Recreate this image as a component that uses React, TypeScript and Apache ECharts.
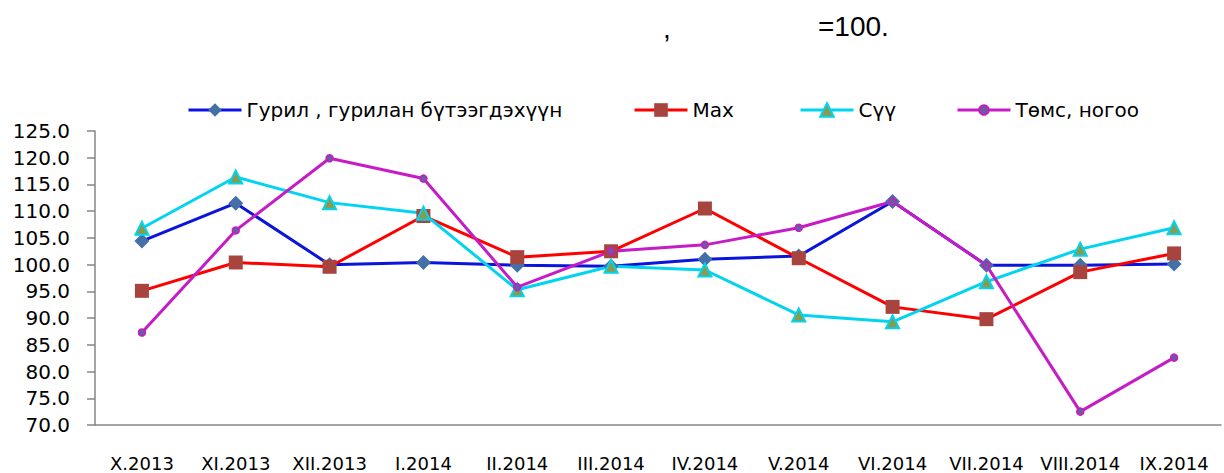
import React, { useEffect, useRef } from "react";
import * as echarts from "echarts";

const categories = ["X.2013", "XI.2013", "XII.2013", "I.2014", "II.2014", "III.2014", "IV.2014", "V.2014", "VI.2014", "VII.2014", "VIII.2014", "IX.2014"];
const flour = [104.4, 111.5, 100.0, 100.4, 99.9, 99.7, 101.0, 101.6, 111.8, 99.9, 99.9, 100.1];
const meat = [95.1, 100.4, 99.6, 109.1, 101.4, 102.5, 110.5, 101.2, 92.1, 89.8, 98.6, 102.1];
const milk = [106.8, 116.4, 111.6, 109.6, 95.3, 99.7, 99.0, 90.6, 89.3, 96.8, 102.9, 106.9];
const veg = [87.3, 106.4, 119.9, 116.1, 95.8, 102.5, 103.7, 106.9, 111.8, 99.9, 72.5, 82.6];
const seriesNames = ["Гурил , гурилан бүтээгдэхүүн", "Мах", "Сүү", "Төмс, ногоо"];

const AXISFONT = "'DejaVu Sans', sans-serif";
const SANS = "'Liberation Sans', Arial, sans-serif";

export default function App() {
  const ref = useRef<HTMLDivElement>(null);
  useEffect(() => {
    const chart = echarts.init(ref.current!, null, { renderer: "svg" });
    const axisGrey = "#868686";
    const legendBase = {
      itemWidth: 53,
      padding: 0,
      textStyle: { fontFamily: AXISFONT, fontSize: 20, color: "#000" },
      lineStyle: { width: 3 },
      selectedMode: false,
    };
    chart.setOption({
      animation: false,
      backgroundColor: "#fff",
      graphic: [
        { type: "text", left: 663, top: 14, style: { text: ",", font: `28px ${SANS}`, fill: "#000" } },
        { type: "text", left: 818, top: 12, style: { text: "=100.", font: `28px ${SANS}`, fill: "#000" } },
      ],
      legend: [
        { ...legendBase, left: 187, top: 100, itemHeight: 17, data: [seriesNames[0]] },
        { ...legendBase, left: 633, top: 100, itemHeight: 17, data: [seriesNames[1]] },
        { ...legendBase, left: 799, top: 100, itemHeight: 17, data: [seriesNames[2]] },
        { ...legendBase, left: 956, top: 100, itemHeight: 12, data: [seriesNames[3]] },
      ],
      grid: { left: 95, right: 3, top: 131, bottom: 48, containLabel: false },
      xAxis: [
        {
          type: "category",
          data: categories,
          boundaryGap: true,
          axisLine: { lineStyle: { color: axisGrey, width: 1.5 } },
          axisTick: { alignWithLabel: true, length: 6, lineStyle: { color: axisGrey, width: 1.5 } },
          axisLabel: { margin: 29, fontFamily: AXISFONT, fontSize: 18, lineHeight: 18, color: "#000", interval: 0 },
        },
        {
          type: "category",
          data: categories,
          position: "bottom",
          boundaryGap: true,
          axisLine: { show: false },
          axisTick: { inside: true, alignWithLabel: true, length: 6, lineStyle: { color: axisGrey, width: 1.5 } },
          axisLabel: { show: false },
        },
      ],
      yAxis: {
        type: "value",
        min: 70,
        max: 125,
        interval: 5,
        axisLine: { show: true, lineStyle: { color: axisGrey, width: 1.5 } },
        axisTick: { show: true, length: 8, lineStyle: { color: axisGrey, width: 1.5 } },
        splitLine: { show: false },
        axisLabel: {
          margin: 25,
          fontFamily: AXISFONT,
          fontSize: 20,
          color: "#000",
          formatter: (v: number) => v.toFixed(1),
        },
      },
      series: [
        {
          name: seriesNames[0],
          type: "line",
          data: flour,
          symbol: "diamond",
          symbolSize: 15,
          lineStyle: { color: "#0A14DC", width: 3 },
          itemStyle: { color: "#4470A8", borderWidth: 0 },
        },
        {
          name: seriesNames[1],
          type: "line",
          data: meat,
          symbol: "rect",
          symbolSize: 14,
          lineStyle: { color: "#FF0000", width: 3 },
          itemStyle: { color: "#A8443E", borderWidth: 0 },
        },
        {
          name: seriesNames[2],
          type: "line",
          data: milk,
          symbol: "triangle",
          symbolSize: 13,
          lineStyle: { color: "#00D4EE", width: 3 },
          itemStyle: { color: "#8C9A4C", borderColor: "#00D4EE", borderWidth: 2 },
        },
        {
          name: seriesNames[3],
          type: "line",
          data: veg,
          symbol: "circle",
          symbolSize: 7,
          lineStyle: { color: "#C61CC6", width: 3 },
          itemStyle: { color: "#6E5A9E", borderColor: "#C61CC6", borderWidth: 1.5 },
        },
      ],
    });
    return () => chart.dispose();
  }, []);
  return <div ref={ref} style={{ width: 1224, height: 473, position: "absolute", left: 0, top: 0 }} />;
}
